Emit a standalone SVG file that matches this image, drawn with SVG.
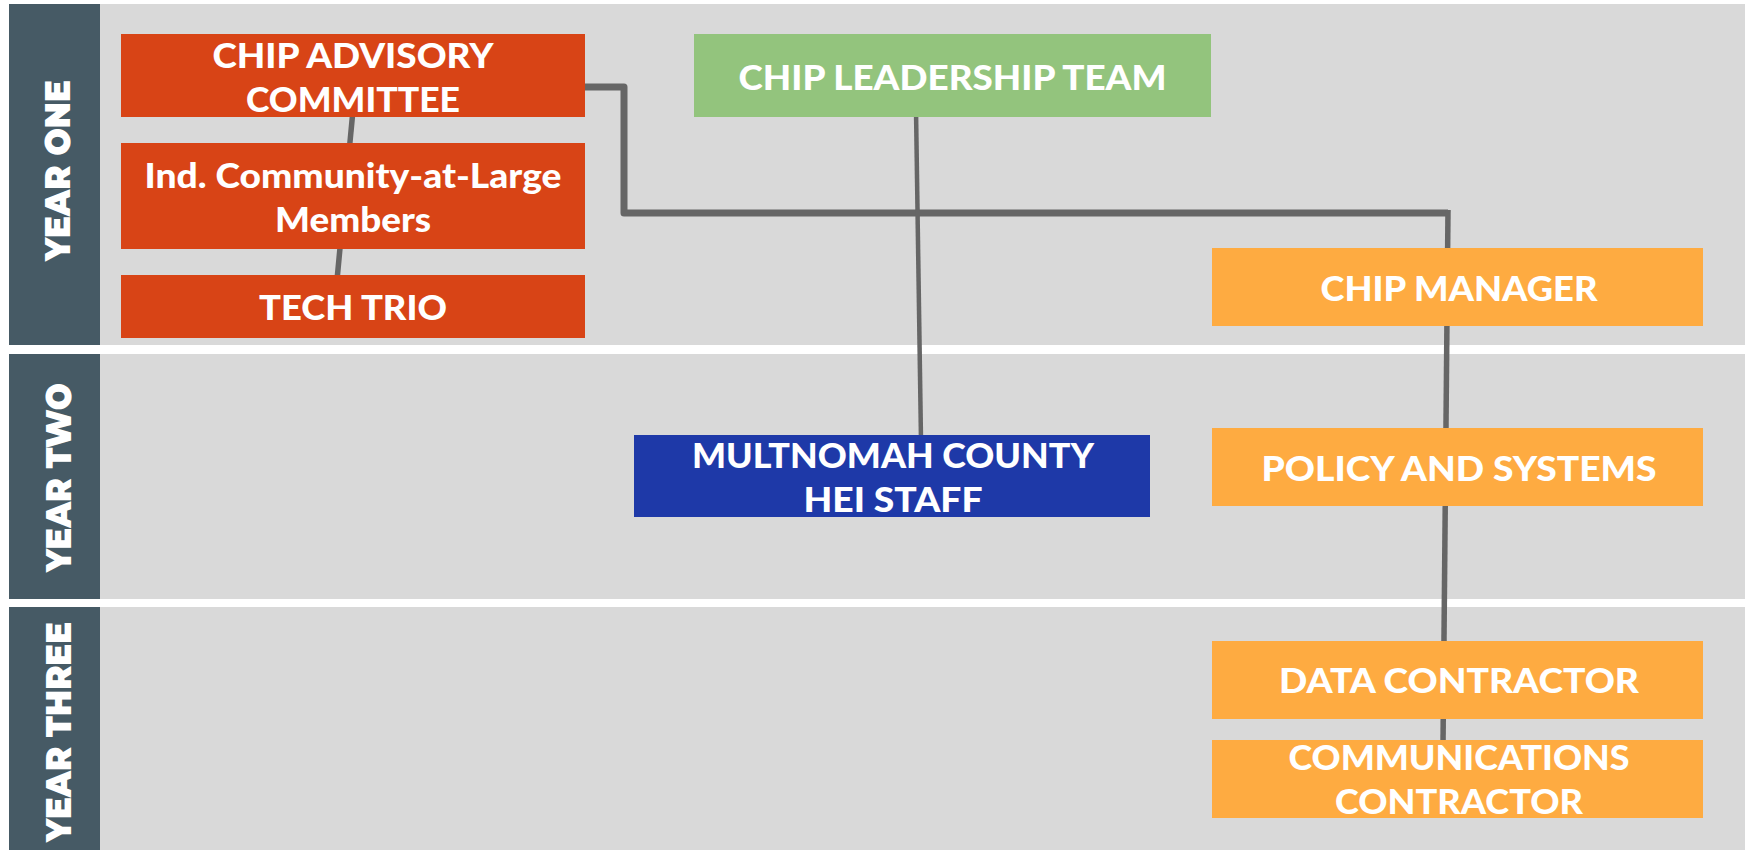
<svg xmlns="http://www.w3.org/2000/svg" width="1748" height="850" viewBox="0 0 1748 850">
<style>
.band{fill:#d9d9d9}
.side{fill:#465a65}
.side-t{fill:#fff;font-family:"Montserrat","Lato","Liberation Sans",sans-serif;font-weight:900;font-size:35px}
.t{fill:#fff;font-family:"Lato","Liberation Sans",sans-serif;font-weight:900;font-size:34px;text-anchor:middle}
.red{fill:#d84416}
.green{fill:#93c47d}
.orange{fill:#feab41}
.blue{fill:#1e39a8}
.ln{stroke:#666;fill:none;stroke-linejoin:round}
</style>
<rect width="1748" height="850" fill="#fff"/>
<g id="lanes">
<rect class="band" x="100" y="4" width="1645" height="341"/>
<rect class="band" x="100" y="354" width="1645" height="245"/>
<rect class="band" x="100" y="607" width="1645" height="243"/>
<rect class="side" x="9" y="4" width="91" height="341"/>
<rect class="side" x="9" y="354" width="91" height="245"/>
<rect class="side" x="9" y="607" width="91" height="243"/>
<text class="side-t" transform="translate(70,261) rotate(-90)" textLength="181" lengthAdjust="spacingAndGlyphs">YEAR ONE</text>
<text class="side-t" transform="translate(71,572) rotate(-90)" textLength="189" lengthAdjust="spacingAndGlyphs">YEAR TWO</text>
<text class="side-t" transform="translate(71,842) rotate(-90)" textLength="220" lengthAdjust="spacingAndGlyphs">YEAR THREE</text>
</g>
<g id="connectors">
<line class="ln" x1="353" y1="110" x2="337" y2="280" stroke-width="5.5"/>
<path class="ln" d="M580,87 H624 V213 H1448" stroke-width="7"/>
<line class="ln" x1="1448" y1="210" x2="1443" y2="745" stroke-width="5.5"/>
<line class="ln" x1="916" y1="110" x2="921" y2="440" stroke-width="4.5"/>
</g>
<g id="advisory">
<rect class="red" x="121" y="34" width="464" height="83"/>
<text class="t" x="353" y="68" textLength="281" lengthAdjust="spacingAndGlyphs">CHIP ADVISORY</text>
<text class="t" x="353" y="112" textLength="214" lengthAdjust="spacingAndGlyphs">COMMITTEE</text>
</g>
<g id="community">
<rect class="red" x="121" y="143" width="464" height="106"/>
<text class="t" x="353" y="188" textLength="417" lengthAdjust="spacingAndGlyphs">Ind. Community-at-Large</text>
<text class="t" x="353" y="232" textLength="156" lengthAdjust="spacingAndGlyphs">Members</text>
</g>
<g id="techtrio">
<rect class="red" x="121" y="275" width="464" height="63"/>
<text class="t" x="353" y="320" textLength="188" lengthAdjust="spacingAndGlyphs">TECH TRIO</text>
</g>
<g id="leadership">
<rect class="green" x="694" y="34" width="517" height="83"/>
<text class="t" x="952.5" y="90" textLength="428" lengthAdjust="spacingAndGlyphs">CHIP LEADERSHIP TEAM</text>
</g>
<g id="manager">
<rect class="orange" x="1212" y="248" width="491" height="78"/>
<text class="t" x="1459" y="301" textLength="277" lengthAdjust="spacingAndGlyphs">CHIP MANAGER</text>
</g>
<g id="multnomah">
<rect class="blue" x="634" y="435" width="516" height="82"/>
<text class="t" x="893" y="467.5" textLength="402" lengthAdjust="spacingAndGlyphs">MULTNOMAH COUNTY</text>
<text class="t" x="893" y="511.5" textLength="179" lengthAdjust="spacingAndGlyphs">HEI STAFF</text>
</g>
<g id="policy">
<rect class="orange" x="1212" y="428" width="491" height="78"/>
<text class="t" x="1459" y="481" textLength="395" lengthAdjust="spacingAndGlyphs">POLICY AND SYSTEMS</text>
</g>
<g id="data">
<rect class="orange" x="1212" y="641" width="491" height="78"/>
<text class="t" x="1459" y="693" textLength="360" lengthAdjust="spacingAndGlyphs">DATA CONTRACTOR</text>
</g>
<g id="comms">
<rect class="orange" x="1212" y="740" width="491" height="78"/>
<text class="t" x="1459" y="770" textLength="341" lengthAdjust="spacingAndGlyphs">COMMUNICATIONS</text>
<text class="t" x="1459" y="814" textLength="248" lengthAdjust="spacingAndGlyphs">CONTRACTOR</text>
</g>
</svg>
